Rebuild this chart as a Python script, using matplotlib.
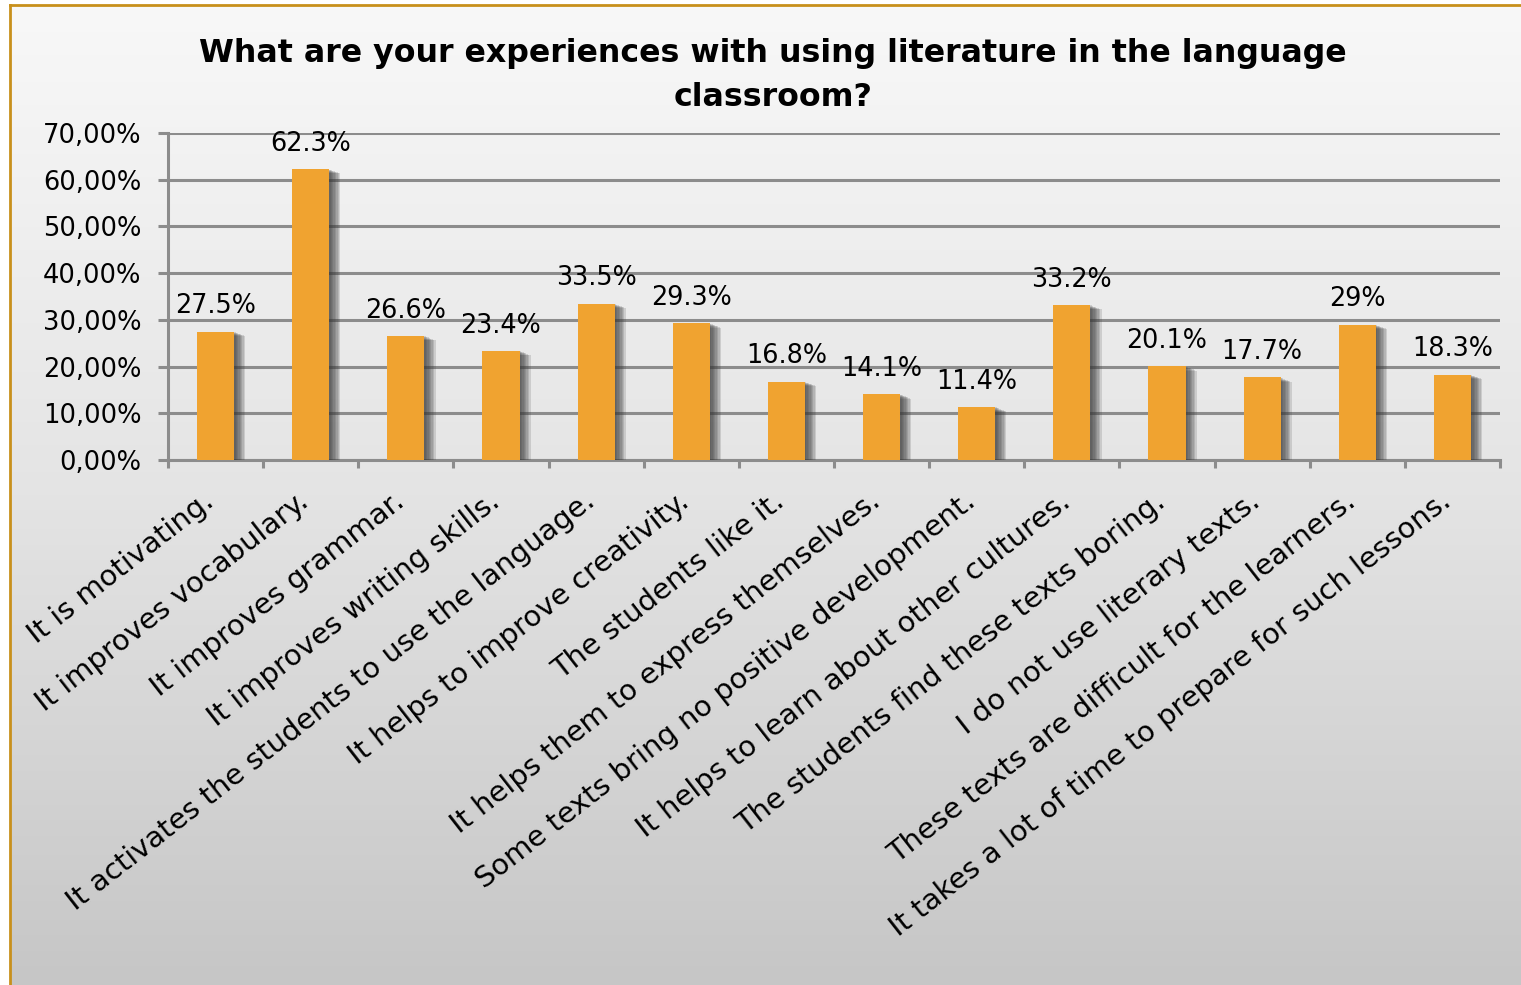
import numpy as np
import matplotlib
matplotlib.use("Agg")
import matplotlib.pyplot as plt
import matplotlib.patheffects as pe
from matplotlib.colors import LinearSegmentedColormap

# survey answers and share of respondents (%)
answers = [
    "It is motivating.",
    "It improves vocabulary.",
    "It improves grammar.",
    "It improves writing skills.",
    "It activates the students to use the language.",
    "It helps to improve creativity.",
    "The students like it.",
    "It helps them to express themselves.",
    "Some texts bring no positive development.",
    "It helps to learn about other cultures.",
    "The students find these texts boring.",
    "I do not use literary texts.",
    "These texts are difficult for the learners.",
    "It takes a lot of time to prepare for such lessons.",
]
shares = [27.5, 62.3, 26.6, 23.4, 33.5, 29.3, 16.8, 14.1, 11.4, 33.2, 20.1, 17.7, 29, 18.3]
yticks = [0, 10, 20, 30, 40, 50, 60, 70]

W, H = 1521, 985
fig = plt.figure(figsize=(W / 100, H / 100), dpi=100)
fig.patch.set_facecolor("white")
plt.rcParams["font.family"] = "DejaVu Sans"

# grey gradient panel with a gold frame
bg = fig.add_axes([10 / W, 0, 1 - 10 / W, 1 - 5 / H], zorder=-10)
grad = np.linspace(0, 1, 256).reshape(-1, 1)
cmap = LinearSegmentedColormap.from_list("panel", ["#f8f8f8", "#e4e4e4", "#c6c6c6"])
bg.imshow(grad, aspect="auto", cmap=cmap, extent=[0, 1, 0, 1], origin="upper")
bg.set_xlim(0, 1)
bg.set_ylim(0, 1)
bg.set_xticks([])
bg.set_yticks([])
for s in ["right", "bottom"]:
    bg.spines[s].set_visible(False)
for s in ["left", "top"]:
    bg.spines[s].set_color("#c8901c")
    bg.spines[s].set_linewidth(2)

ax = fig.add_axes([168 / W, 1 - 460 / H, (1500 - 168) / W, (460 - 133) / H])
ax.set_facecolor("none")

x = np.arange(len(answers))
# soft drop shadow on the right of each bar
shadow = [pe.SimplePatchShadow(offset=(k, -0.4 * k), shadow_rgbFace="#3a3a3a", alpha=0.16)
          for k in (1.0, 2.0, 3.0, 4.0, 5.0, 6.0, 7.0, 8.0)]
bars = ax.bar(x, shares, width=0.39, color="#f0a330", zorder=3,
              path_effects=shadow + [pe.Normal()])

for xi, v in zip(x, shares):
    ax.annotate(f"{v:g}%", (xi, v), xytext=(0, 13), textcoords="offset points",
                ha="center", va="baseline", fontsize=18.4, color="black", zorder=5)

ax.set_xlim(-0.5, len(answers) - 0.5)
ax.set_ylim(0, 70)
ax.set_yticks(yticks)
ax.set_yticklabels([f"{v:.2f}%".replace(".", ",") for v in yticks], fontsize=18.5)
ax.yaxis.grid(True, color="#8c8c8c", linewidth=2.2, zorder=0)
ax.set_axisbelow(True)

ax.set_xticks(x)
ax.set_xticklabels(answers, rotation=38, ha="right", va="baseline",
                   rotation_mode="anchor", fontsize=20.8)
ax.set_xticks(np.arange(len(answers) + 1) - 0.5, minor=True)
ax.tick_params(axis="x", which="major", length=0, pad=32)
ax.tick_params(axis="x", which="minor", length=6, width=2.2, color="#8c8c8c")
ax.tick_params(axis="y", length=7, width=2.2, color="#8c8c8c", pad=12)

for s in ["top", "right"]:
    ax.spines[s].set_visible(False)
for s in ["left", "bottom"]:
    ax.spines[s].set_color("#8c8c8c")
    ax.spines[s].set_linewidth(2.2)

fig.text(773 / W, 1 - 62 / H, "What are your experiences with using literature in the language",
         ha="center", va="baseline", fontsize=22.8, fontweight="bold")
fig.text(773 / W, 1 - 106 / H, "classroom?",
         ha="center", va="baseline", fontsize=22.8, fontweight="bold")

fig.savefig("out.png", dpi=100)
